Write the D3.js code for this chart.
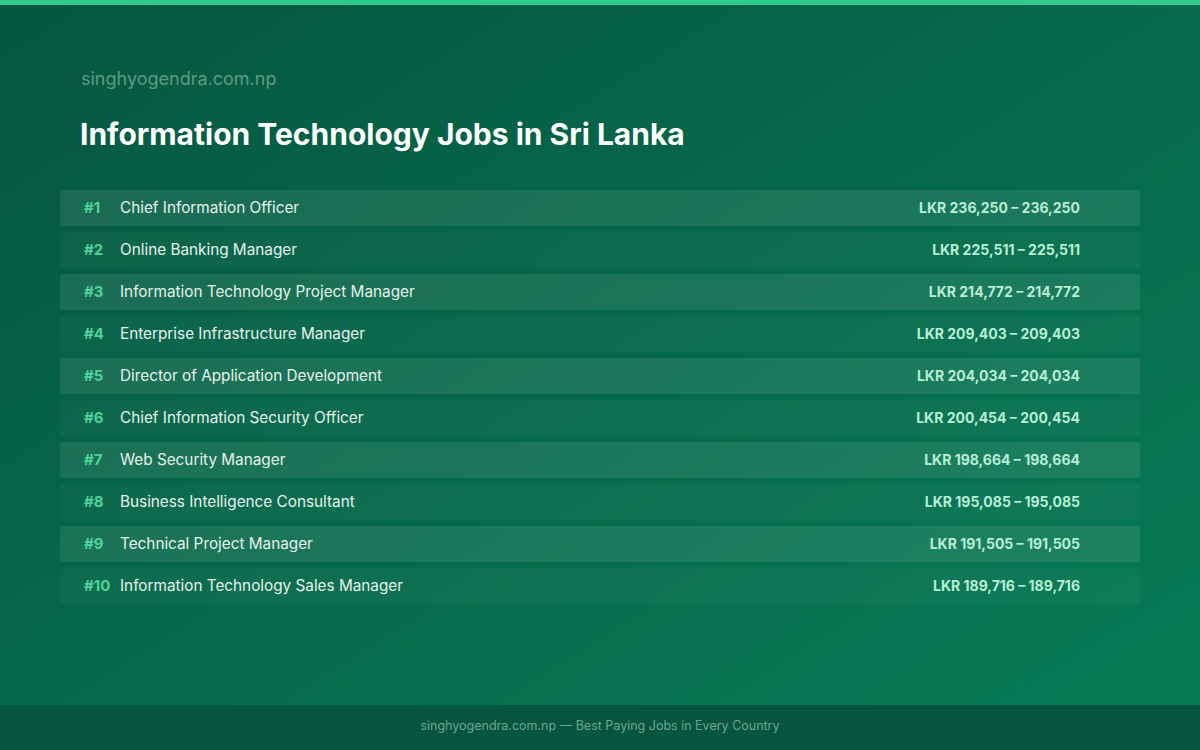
<!DOCTYPE html>
<html><head><meta charset="utf-8">
<script src="https://cdn.jsdelivr.net/npm/d3@7/dist/d3.min.js"></script>
<style>body{margin:0;overflow:hidden}svg{display:block}</style></head>
<body><svg id="c" width="1200" height="750"></svg>
<script>
const ranks = ["#1","#2","#3","#4","#5","#6","#7","#8","#9","#10"];
const jobs = ["Chief Information Officer","Online Banking Manager","Information Technology Project Manager","Enterprise Infrastructure Manager","Director of Application Development","Chief Information Security Officer","Web Security Manager","Business Intelligence Consultant","Technical Project Manager","Information Technology Sales Manager"];
const lowValues = [236250,225511,214772,209403,204034,200454,198664,195085,191505,189716];
const highValues = [236250,225511,214772,209403,204034,200454,198664,195085,191505,189716];

const svg = d3.select("#c");
const F = "Inter, 'Noto Sans', sans-serif";
const defs = svg.append("defs");
const g = defs.append("linearGradient").attr("id","bg").attr("x1","0").attr("y1","0").attr("x2","1").attr("y2","1");
g.append("stop").attr("offset","0").attr("stop-color","#05573f");
g.append("stop").attr("offset","1").attr("stop-color","#077c57");
svg.append("rect").attr("width",1200).attr("height",750).attr("fill","url(#bg)");
svg.append("rect").attr("width",1200).attr("height",5).attr("fill","#2fcb8e");
svg.append("rect").attr("y",705).attr("width",1200).attr("height",45).attr("fill","#05553f");
svg.append("text").attr("x",600).attr("y",730).attr("text-anchor","middle").attr("font-family",F).attr("font-size",12.5).attr("fill","#6fa58f").text("singhyogendra.com.np — Best Paying Jobs in Every Country");
svg.append("text").attr("x",81).attr("y",85).attr("font-family",F).attr("font-size",18).attr("fill","#5f9a84").text("singhyogendra.com.np");
svg.append("text").attr("x",80).attr("y",145).attr("font-family",F).attr("font-size",30).attr("font-weight",700).attr("fill","#ffffff").text("Information Technology Jobs in Sri Lanka");

const y = d3.scaleBand().domain(d3.range(jobs.length)).range([190,604]).paddingInner(6/42).paddingOuter(0);
const fmt = d3.format(",");
const rows = svg.selectAll("g.row").data(jobs).join("g").attr("transform",(d,i)=>`translate(0,${y(i)})`);
rows.append("rect").attr("x",60).attr("width",1080).attr("height",y.bandwidth()).attr("rx",4)
  .attr("fill",(d,i)=> i%2===0 ? "rgba(255,255,255,0.085)" : "rgba(255,255,255,0.03)");
const cy = y.bandwidth()/2 + 5;
rows.append("text").attr("x",84).attr("y",cy).attr("font-family",F).attr("font-size",15).attr("font-weight",700).attr("fill","#4fd39a").text((d,i)=>ranks[i]);
rows.append("text").attr("x",120).attr("y",cy).attr("font-family",F).attr("font-size",15.3).attr("fill","#e6f2ec").text(d=>d);
rows.append("text").attr("x",1080).attr("y",cy).attr("text-anchor","end").attr("font-family",F).attr("font-size",14).attr("font-weight",700).attr("fill","#b8efd6").text((d,i)=>`LKR ${fmt(lowValues[i])} – ${fmt(highValues[i])}`);
</script></body></html>
